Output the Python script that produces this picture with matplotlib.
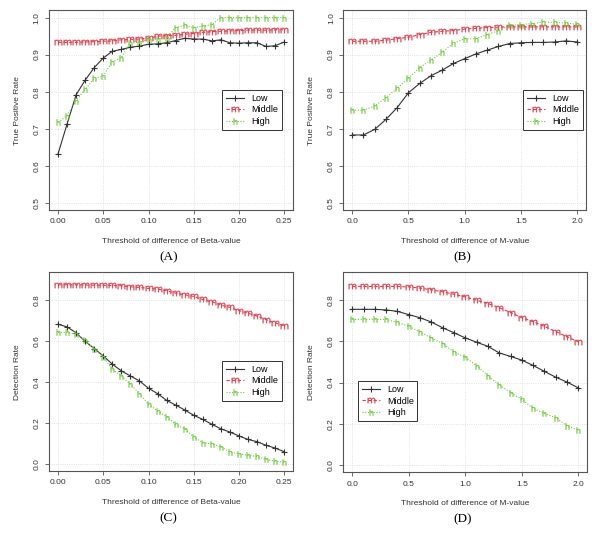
import numpy as np
import matplotlib
matplotlib.use("Agg")
import matplotlib.pyplot as plt
from matplotlib.ticker import FormatStrFormatter

plt.rcParams['font.family'] = ['Liberation Sans', 'DejaVu Sans']

# thresholds
beta_x = [round(0.01 * i, 2) for i in range(26)]
m_x = [round(0.1 * i, 1) for i in range(21)]

# (A) true positive rate, Beta-value
tpr_beta_low = [0.632, 0.713, 0.792, 0.831, 0.865, 0.891, 0.909, 0.914, 0.920, 0.923,
                0.928, 0.929, 0.932, 0.938, 0.944, 0.942, 0.942, 0.937, 0.940, 0.932,
                0.931, 0.932, 0.932, 0.922, 0.924, 0.934]
tpr_beta_mid = [0.933, 0.933, 0.933, 0.934, 0.935, 0.936, 0.937, 0.940, 0.941, 0.942,
                0.944, 0.950, 0.951, 0.952, 0.955, 0.957, 0.960, 0.962, 0.963, 0.964,
                0.965, 0.966, 0.966, 0.966, 0.967, 0.967]
tpr_beta_high = [0.717, 0.735, 0.776, 0.806, 0.836, 0.842, 0.881, 0.892, 0.932, 0.933,
                 0.941, 0.943, 0.945, 0.973, 0.979, 0.973, 0.977, 0.981, 1.0, 1.0,
                 1.0, 1.0, 1.0, 1.0, 1.0, 1.0]

# (B) true positive rate, M-value
tpr_m_low = [0.683, 0.683, 0.698, 0.725, 0.757, 0.797, 0.822, 0.843, 0.858, 0.876,
             0.889, 0.902, 0.912, 0.922, 0.930, 0.932, 0.933, 0.933, 0.934, 0.937, 0.934]
tpr_m_mid = [0.936, 0.936, 0.936, 0.939, 0.943, 0.947, 0.954, 0.960, 0.963, 0.965,
             0.969, 0.971, 0.973, 0.974, 0.975, 0.975, 0.975, 0.975, 0.975, 0.975, 0.975]
tpr_m_high = [0.750, 0.750, 0.761, 0.784, 0.809, 0.836, 0.865, 0.885, 0.906, 0.931,
              0.943, 0.943, 0.954, 0.965, 0.979, 0.981, 0.984, 0.988, 0.987, 0.985, 0.982]

# (C) detection rate, Beta-value
det_beta_low = [0.682, 0.669, 0.640, 0.598, 0.563, 0.527, 0.487, 0.454, 0.429, 0.405,
                0.369, 0.343, 0.310, 0.287, 0.263, 0.237, 0.217, 0.193, 0.171, 0.155,
                0.136, 0.119, 0.108, 0.090, 0.077, 0.059]
det_beta_mid = [0.875, 0.875, 0.875, 0.874, 0.873, 0.872, 0.872, 0.870, 0.865, 0.862,
                0.857, 0.854, 0.846, 0.834, 0.826, 0.818, 0.803, 0.792, 0.776, 0.764,
                0.749, 0.736, 0.722, 0.704, 0.689, 0.674]
det_beta_high = [0.642, 0.642, 0.633, 0.604, 0.562, 0.522, 0.462, 0.429, 0.389, 0.343,
                 0.291, 0.258, 0.230, 0.193, 0.171, 0.131, 0.103, 0.098, 0.083, 0.057,
                 0.049, 0.041, 0.036, 0.021, 0.013, 0.008]

# (D) detection rate, M-value
det_m_low = [0.756, 0.756, 0.756, 0.753, 0.746, 0.730, 0.715, 0.694, 0.666, 0.642,
             0.617, 0.596, 0.576, 0.544, 0.527, 0.509, 0.483, 0.454, 0.426, 0.402, 0.374]
det_m_mid = [0.867, 0.867, 0.867, 0.867, 0.867, 0.865, 0.859, 0.851, 0.841, 0.829,
             0.816, 0.800, 0.784, 0.764, 0.740, 0.715, 0.696, 0.673, 0.648, 0.622, 0.598]
det_m_high = [0.707, 0.707, 0.707, 0.707, 0.692, 0.674, 0.645, 0.617, 0.589, 0.549,
              0.522, 0.482, 0.433, 0.389, 0.351, 0.318, 0.274, 0.250, 0.229, 0.189, 0.168]

labels = ["Low", "Middle", "High"]
colors = ["#333333", "#e0404e", "#6ccb3c"]

panels = [
    ("(A)", beta_x, [tpr_beta_low, tpr_beta_mid, tpr_beta_high], "True Positive Rate",
     "Threshold of difference of Beta-value", [0.0817, 0.608, 0.407, 0.373], (0.709, 0.60)),
    ("(B)", m_x, [tpr_m_low, tpr_m_mid, tpr_m_high], "True Positive Rate",
     "Threshold of difference of M-value", [0.572, 0.608, 0.405, 0.373], (0.741, 0.60)),
    ("(C)", beta_x, [det_beta_low, det_beta_mid, det_beta_high], "Detection Rate",
     "Threshold of difference of Beta-value", [0.0817, 0.121, 0.407, 0.371], (0.709, 0.553)),
    ("(D)", m_x, [det_m_low, det_m_mid, det_m_high], "Detection Rate",
     "Threshold of difference of M-value", [0.572, 0.119, 0.407, 0.373], (0.061, 0.455)),
]

fig = plt.figure(figsize=(6, 5.36), dpi=100)

for tag, x, ys, ylab, xlab, pos, legpos in panels:
    ax = fig.add_axes(pos)
    ax.plot(x, ys[0], color=colors[0], lw=0.8, ls="-", marker="+", ms=5, mew=0.8, label=labels[0])
    ax.plot(x, ys[1], color=colors[1], lw=0.8, ls=(0, (3, 2)), marker=r"$\mathrm{m}$", ms=5.5, mew=0.2, label=labels[1])
    ax.plot(x, ys[2], color=colors[2], lw=0.8, ls=(0, (1, 1.5)), marker=r"$\mathrm{h}$", ms=4.5, mew=0.2, label=labels[2])

    if tag in ("(A)", "(B)"):
        ax.set_ylim(0.48, 1.02)
        ax.set_yticks([0.5, 0.6, 0.7, 0.8, 0.9, 1.0])
    else:
        ax.set_ylim(-0.036, 0.936)
        ax.set_yticks([0.0, 0.2, 0.4, 0.6, 0.8])
    ax.yaxis.set_major_formatter(FormatStrFormatter("%.1f"))
    if tag in ("(A)", "(C)"):
        ax.set_xlim(-0.01, 0.26)
        ax.set_xticks([0.0, 0.05, 0.10, 0.15, 0.20, 0.25])
        ax.xaxis.set_major_formatter(FormatStrFormatter("%.2f"))
    else:
        ax.set_xlim(-0.08, 2.08)
        ax.set_xticks([0.0, 0.5, 1.0, 1.5, 2.0])
        ax.xaxis.set_major_formatter(FormatStrFormatter("%.1f"))

    ax.grid(True, color="#d8d8d8", ls=":", lw=0.6)
    for s in ax.spines.values():
        s.set_color("#555555")
        s.set_linewidth(0.8)
    ax.tick_params(direction="out", length=3, width=0.6, colors="#555555",
                   labelsize=6, labelcolor="#333333", pad=3)
    for t in ax.get_yticklabels():
        t.set_rotation(90)
        t.set_va("center")
    ax.set_xlabel(xlab, fontsize=6, color="#333333", labelpad=9)
    ax.set_ylabel(ylab, fontsize=6, color="#333333", labelpad=9)

    leg = ax.legend(loc="upper left", bbox_to_anchor=legpos, fontsize=6.5, numpoints=1,
                    handlelength=2.0, labelspacing=0.3, borderpad=0.4,
                    handletextpad=0.8, borderaxespad=0, fancybox=False, framealpha=1)
    leg.get_frame().set_edgecolor("#333333")
    leg.get_frame().set_linewidth(0.7)

    bb = ax.get_position()
    fig.text(bb.x0 + bb.width * 0.49, bb.y0 - 0.088, tag, ha="center", va="center",
             fontsize=9.5, family="Liberation Serif")

fig.savefig("out.png", dpi=100)
